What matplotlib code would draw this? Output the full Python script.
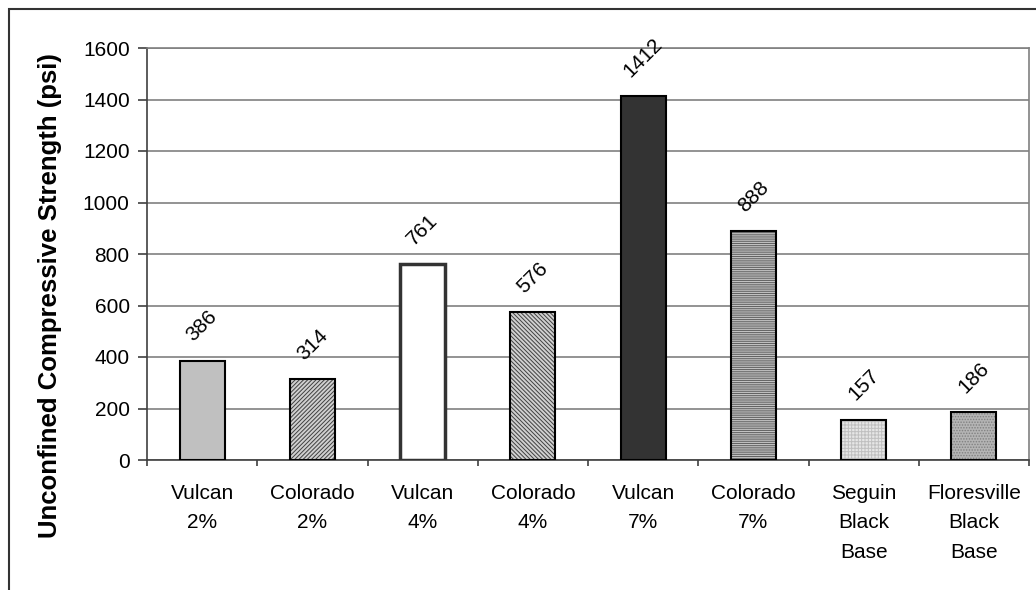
import matplotlib
matplotlib.use("Agg")
import matplotlib.pyplot as plt
from matplotlib.patches import Rectangle

plt.rcParams['font.family'] = ['Liberation Sans', 'DejaVu Sans']
plt.rcParams['hatch.linewidth'] = 0.7

categories = ["Vulcan\n2%", "Colorado\n2%", "Vulcan\n4%", "Colorado\n4%",
              "Vulcan\n7%", "Colorado\n7%", "Seguin\nBlack\nBase", "Floresville\nBlack\nBase"]
strength = [386, 314, 761, 576, 1412, 888, 157, 186]
yticks = [0, 200, 400, 600, 800, 1000, 1200, 1400, 1600]

# fill style per bar: (face colour, hatch, hatch colour, edge colour, edge width)
styles = [
    ("#c0c0c0", None, None, "black", 1.5),
    ("#d0d0d0", "////////", "#404040", "black", 1.5),
    ("white", None, None, "#333333", 2.5),
    ("#d0d0d0", "\\\\\\\\\\\\\\\\", "#404040", "black", 1.5),
    ("#333333", None, None, "black", 1.5),
    ("#d0d0d0", "---------", "#606060", "black", 1.5),
    ("#e6e6e6", "+++++", "#c0c0c0", "black", 1.5),
    ("#b4b4b4", "......", "#808080", "black", 1.5),
]

fig = plt.figure(figsize=(10.36, 5.90), dpi=100)
ax = fig.add_axes([147 / 1036, 1 - 460 / 590, (1029 - 147) / 1036, (460 - 48) / 590])

x = list(range(len(categories)))
for xi, val, (fc, hatch, hc, ec, lw) in zip(x, strength, styles):
    if hatch:
        ax.bar(xi, val, width=0.41, color=fc, hatch=hatch, edgecolor=hc, linewidth=0, zorder=3)
        ax.bar(xi, val, width=0.41, fill=False, edgecolor=ec, linewidth=lw, zorder=4)
    else:
        ax.bar(xi, val, width=0.41, color=fc, edgecolor=ec, linewidth=lw, zorder=3)
    ax.annotate(str(val), xy=(xi, val), xytext=(0, 11), textcoords="offset points",
                rotation=45, ha="center", va="bottom", fontsize=15, zorder=5)

ax.set_xlim(-0.5, len(categories) - 0.5)
ax.set_ylim(0, 1600)
ax.set_yticks(yticks)
ax.set_yticklabels([str(v) for v in yticks], fontsize=15)
ax.yaxis.grid(True, color="#808080", linewidth=1.2, zorder=0)
ax.set_axisbelow(True)

ax.set_xticks(x)
ax.set_xticklabels(categories, fontsize=15, linespacing=1.7, va="top")
ax.tick_params(axis="x", which="major", length=0, pad=17)
ax.set_xticks([i - 0.5 for i in range(len(categories) + 1)], minor=True)
ax.tick_params(axis="x", which="minor", length=4, color="#404040", width=1.2)
ax.tick_params(axis="y", length=6.5, color="#404040", width=1.2, pad=6)

ax.spines["left"].set_color("#404040")
ax.spines["bottom"].set_color("#404040")
ax.spines["top"].set_color("#808080")
ax.spines["right"].set_color("#808080")
for s in ax.spines.values():
    s.set_linewidth(1.2)

fig.text(50 / 1036, 1 - 296 / 590, "Unconfined Compressive Strength (psi)",
         rotation=90, ha="center", va="center", fontsize=18.5, fontweight="bold")

# outer chart frame
fig.patches.append(Rectangle((9 / 1036, -0.05), 1.1, 1 - 9 / 590 + 0.05,
                             transform=fig.transFigure, fill=False,
                             edgecolor="#333333", linewidth=1.5))

fig.savefig("out.png", dpi=100)
